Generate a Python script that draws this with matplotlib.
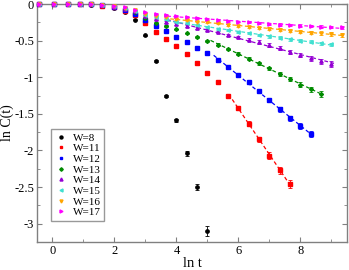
import numpy as np
import matplotlib
matplotlib.use('Agg')
import matplotlib.pyplot as plt
from matplotlib.lines import Line2D
from matplotlib.ticker import MultipleLocator

# ln t values (shared by all sets)
lnt = [-0.42, 0.06, 0.49, 0.88, 1.25, 1.61, 1.98, 2.33, 2.67, 3.0, 3.33, 3.67,
       4.0, 4.33, 4.67, 5.0, 5.33, 5.67, 6.0, 6.33, 6.67, 7.0, 7.33, 7.67,
       8.0, 8.33, 8.67, 9.0, 9.33]

labels = ['W=8', 'W=11', 'W=12', 'W=13', 'W=14', 'W=15', 'W=16', 'W=17']

c_w8 = [0, 0, 0, -0.002, -0.008, -0.025, -0.055, -0.115, -0.215, -0.425, -0.78,
        -1.26, -1.59, -2.04, -2.50, -3.10]
c_w11 = [0, 0, 0, -0.001, -0.006, -0.02, -0.045, -0.09, -0.155, -0.26, -0.38,
         -0.48, -0.57, -0.685, -0.81, -0.945, -1.07, -1.255, -1.42, -1.635,
         -1.85, -2.07, -2.27, -2.46]
c_w12 = [0, 0, 0, -0.001, -0.005, -0.018, -0.04, -0.08, -0.14, -0.22, -0.30,
         -0.375, -0.45, -0.515, -0.595, -0.675, -0.77, -0.86, -0.965, -1.07,
         -1.19, -1.31, -1.44, -1.56, -1.67, -1.77]
c_w13 = [0, 0, 0, -0.001, -0.005, -0.017, -0.038, -0.07, -0.115, -0.19, -0.255,
         -0.30, -0.345, -0.40, -0.45, -0.50, -0.555, -0.615, -0.68, -0.745,
         -0.81, -0.88, -0.95, -1.02, -1.10, -1.165, -1.23]
c_w14 = [0, 0, 0, -0.001, -0.005, -0.016, -0.035, -0.065, -0.10, -0.16, -0.21,
         -0.245, -0.275, -0.30, -0.33, -0.355, -0.385, -0.42, -0.45, -0.485,
         -0.52, -0.56, -0.605, -0.65, -0.70, -0.74, -0.78, -0.82]
c_w15 = [0, 0, 0, -0.001, -0.005, -0.015, -0.033, -0.06, -0.095, -0.15, -0.18,
         -0.21, -0.24, -0.26, -0.285, -0.31, -0.335, -0.36, -0.38, -0.40,
         -0.42, -0.44, -0.46, -0.48, -0.50, -0.515, -0.535, -0.55]
c_w16 = [0, 0, 0, -0.001, -0.005, -0.015, -0.032, -0.055, -0.085, -0.135, -0.16,
         -0.18, -0.205, -0.22, -0.24, -0.25, -0.265, -0.28, -0.295, -0.31,
         -0.325, -0.335, -0.35, -0.365, -0.38, -0.39, -0.40, -0.41, -0.42]
c_w17 = [0, 0, 0, -0.001, -0.004, -0.014, -0.03, -0.045, -0.08, -0.115, -0.135,
         -0.148, -0.16, -0.174, -0.19, -0.205, -0.22, -0.23, -0.24, -0.25,
         -0.26, -0.27, -0.28, -0.29, -0.295, -0.30, -0.31, -0.315, -0.32]

# error bars
e_w8 = [0, 0, 0, 0, 0, 0.002, 0.004, 0.005, 0.006, 0.008, 0.01, 0.015, 0.02,
        0.03, 0.04, 0.07]
e_w11 = [0, 0, 0, 0, 0, 0.002, 0.003, 0.004, 0.005, 0.006, 0.008, 0.01, 0.012,
         0.015, 0.018, 0.02, 0.022, 0.025, 0.03, 0.035, 0.04, 0.045, 0.05, 0.06]
e_w12 = [0, 0, 0, 0, 0, 0.002, 0.003, 0.004, 0.005, 0.006, 0.007, 0.008, 0.01,
         0.012, 0.014, 0.015, 0.018, 0.02, 0.022, 0.025, 0.028, 0.03, 0.033,
         0.035, 0.038, 0.04]
e_w13 = [0, 0, 0, 0, 0, 0.002, 0.003, 0.004, 0.005, 0.006, 0.007, 0.008, 0.01,
         0.011, 0.012, 0.014, 0.016, 0.018, 0.02, 0.022, 0.024, 0.026, 0.028,
         0.03, 0.032, 0.034, 0.036]
e_w14 = [0, 0, 0, 0, 0, 0.002, 0.003, 0.004, 0.005, 0.006, 0.007, 0.008, 0.01,
         0.011, 0.012, 0.013, 0.014, 0.016, 0.018, 0.02, 0.022, 0.024, 0.026,
         0.028, 0.03, 0.032, 0.034, 0.036]
e_w15 = [0, 0, 0, 0, 0, 0.002, 0.003, 0.004, 0.005, 0.006, 0.007, 0.008, 0.009,
         0.01, 0.011, 0.012, 0.013, 0.014, 0.015, 0.016, 0.017, 0.018, 0.019,
         0.02, 0.021, 0.022, 0.023, 0.024]
e_w16 = [0, 0, 0, 0, 0, 0.002, 0.003, 0.004, 0.005, 0.006, 0.007, 0.008, 0.009,
         0.01, 0.011, 0.012, 0.013, 0.014, 0.015, 0.016, 0.017, 0.018, 0.019,
         0.02, 0.021, 0.022, 0.023, 0.024, 0.025]
e_w17 = [0, 0, 0, 0, 0, 0.002, 0.003, 0.004, 0.005, 0.006, 0.006, 0.007, 0.008,
         0.008, 0.009, 0.01, 0.01, 0.011, 0.012, 0.012, 0.013, 0.014, 0.015,
         0.015, 0.016, 0.017, 0.018, 0.018, 0.019]

# range of the dashed linear fits (None = no fit)
fit_lo = [None, 5.8, 5.2, 5.1, 3.7, 3.7, 3.8, 3.7]
fit_hi = [None, 7.7, 8.4, 8.7, 9.1, 9.0, 9.4, 9.4]

ys = [c_w8, c_w11, c_w12, c_w13, c_w14, c_w15, c_w16, c_w17]
es = [e_w8, e_w11, e_w12, e_w13, e_w14, e_w15, e_w16, e_w17]
colors = ['black', '#ff0000', '#0000ff', '#008b00', '#9400d3', '#40e0d0',
          '#ffa500', '#ff00ff']
markers = ['o', 's', 's', 'D', '^', '<', 'v', '>']
msizes = [2.4, 2.2, 2.2, 2.0, 2.4, 2.4, 2.4, 2.4]

plt.rcParams['font.family'] = ['Liberation Serif', 'DejaVu Serif']

fig = plt.figure(figsize=(3.49, 2.70), dpi=100)
ax = fig.add_axes([0.106, 0.104, 0.888, 0.881])

handles = []
for i in range(len(ys)):
    y = np.array(ys[i])
    x = np.array(lnt[:len(y)])
    ax.errorbar(x, y, yerr=es[i], fmt=markers[i], color=colors[i], ms=msizes[i],
                mec=colors[i], elinewidth=0.6, capsize=1.5, capthick=0.6,
                clip_on=False, zorder=3)
    if fit_lo[i] is not None:
        m = x >= fit_lo[i]
        p = np.polyfit(x[m], y[m], 1)
        xx = np.array([fit_lo[i], fit_hi[i]])
        ax.plot(xx, np.polyval(p, xx), color=colors[i], lw=0.9,
                dashes=(3, 2), zorder=2)
    handles.append(Line2D([], [], ls='none', marker=markers[i],
                          color=colors[i], ms=msizes[i] * 0.9, label=labels[i]))

ax.set_xlim(-0.5, 9.5)
ax.set_ylim(-3.25, 0)
ax.xaxis.set_major_locator(MultipleLocator(2))
ax.xaxis.set_minor_locator(MultipleLocator(1))
ax.yaxis.set_minor_locator(MultipleLocator(0.25))
ax.set_yticks([0, -0.5, -1, -1.5, -2, -2.5, -3])
ax.set_yticklabels(['0', '-0.5', '-1', '-1.5', '-2', '-2.5', '-3'])

gray = '#808080'
for s in ax.spines.values():
    s.set_color(gray)
    s.set_linewidth(1.0)
ax.tick_params(which='both', direction='in', top=True, right=True,
               color=gray, labelsize=9, pad=2)
ax.tick_params(which='major', length=3.5)
ax.tick_params(which='minor', length=2)

ax.set_xlabel('ln t', fontsize=10.5, labelpad=0)
ax.set_ylabel('ln C(t)', fontsize=10)
ax.yaxis.set_label_coords(-0.075, 0.5)

leg = ax.legend(handles=handles, loc='lower left',
                bbox_to_anchor=(0.045, 0.09), fontsize=8,
                frameon=True, fancybox=False, handlelength=1.2,
                handletextpad=0.5, labelspacing=0.08, borderpad=0.3,
                borderaxespad=0)
leg.get_frame().set_edgecolor(gray)
leg.get_frame().set_linewidth(1.0)

fig.savefig('out.png', dpi=100)
